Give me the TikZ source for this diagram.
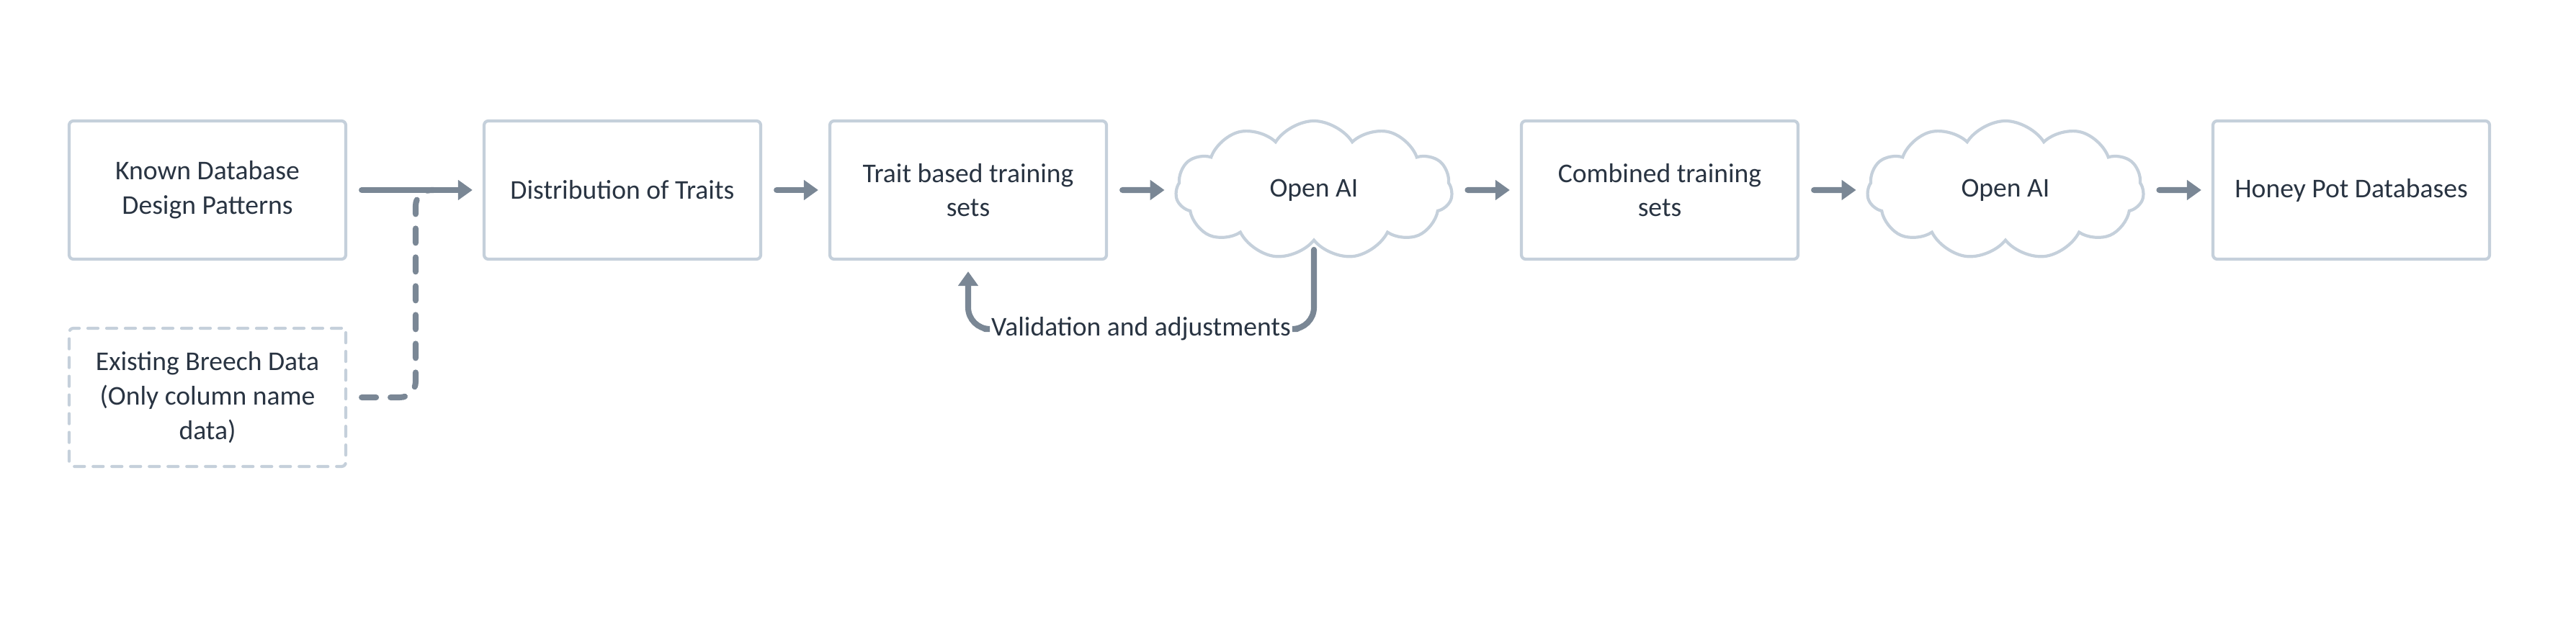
\documentclass[tikz,border=0pt]{standalone}
\usepackage{fontspec}
\setmainfont{Carlito}
\usetikzlibrary{arrows.meta,shapes.symbols}
\definecolor{boxline}{RGB}{197,208,219}
\definecolor{flowgrey}{RGB}{122,135,149}
\definecolor{inkdark}{RGB}{41,52,66}

\begin{document}
\begin{tikzpicture}[
  font=\fontsize{10.7}{13.6}\selectfont, text=inkdark,
  box/.style={draw=boxline, line width=1.2pt, rounded corners=0.06cm, minimum width=3.84cm, minimum height=1.92cm, align=center, fill=white},
  ghostbox/.style={box, dash pattern=on 0.14cm off 0.12cm, line cap=round},
  puff/.style={cloud, draw=boxline, line width=1.2pt, cloud puffs=11, cloud puff arc=115, aspect=2, minimum width=3.84cm, minimum height=1.92cm},
  flow/.style={draw=flowgrey, line width=2.3pt, line cap=round, -{Triangle[length=0.2cm, width=0.27cm]}, shorten <=0.2cm, shorten >=0.14cm},
  backline/.style={draw=flowgrey, line width=2.3pt, line cap=round, rounded corners=0.3cm},
  dashflow/.style={backline, rounded corners=0.22cm, dash pattern=on 0.2cm off 0.2cm},
]
\useasboundingbox (0,0) rectangle (35.76,8.64);

% main row
\node (known) at (2.88,6) [box] {Known Database\\Design Patterns};
\node (dist) at (8.64,6) [box] {Distribution of Traits};
\node (trait) at (13.44,6) [box] {Trait based training\\sets};
\node (cloudA) at (18.24,6) [puff] {Open AI};
\node (combined) at (23.04,6) [box] {Combined training\\sets};
\node (cloudB) at (27.84,6) [puff] {Open AI};
\node (honey) at (32.64,6) [box] {Honey Pot Databases};

% side input
\node (existing) at (2.88,3.12) [ghostbox] {Existing Breech Data\\(Only column name\\data)};
\node (valid) at (15.84,4.07) [inner sep=1pt] {Validation and adjustments};

\draw[flow] (known) -- (dist);
\draw[flow] (dist) -- (trait);
\draw[flow] (trait) -- (cloudA);
\draw[flow] (cloudA) -- (combined);
\draw[flow] (combined) -- (cloudB);
\draw[flow] (cloudB) -- (honey);

\coordinate (merge) at (5.77,6);
\draw[dashflow] ([xshift=0.2cm]existing.east) -| (merge) -- ++(0.25,0);

% feedback loop
\draw[backline] ([yshift=-0.1cm]cloudA.south) |- ([xshift=0.05cm]valid.east);
\draw[flow, rounded corners=0.3cm, shorten <=0pt, shorten >=0.15cm] ([xshift=-0.05cm]valid.west) -| (trait.south);
\end{tikzpicture}
\end{document}
